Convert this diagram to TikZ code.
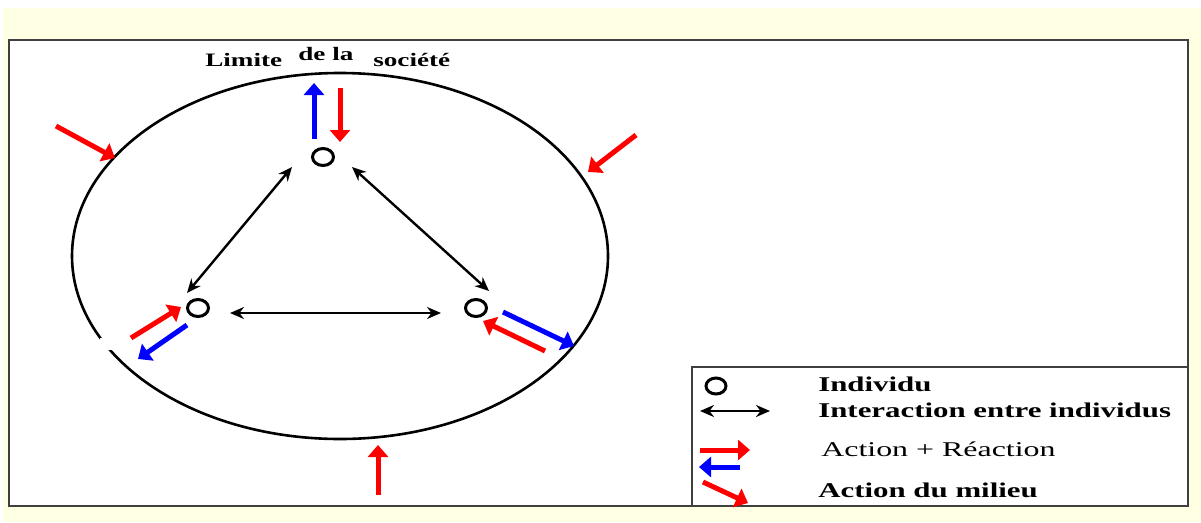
\documentclass[tikz,border=0pt]{standalone}
\usepackage{fontspec}
\setmainfont{Liberation Serif}
\usetikzlibrary{arrows.meta,shapes.geometric}
\definecolor{bgyel}{RGB}{255,255,228}
\definecolor{pred}{RGB}{255,0,0}
\definecolor{pblue}{RGB}{0,0,255}
\tikzset{
  indiv/.style={ellipse,draw=black,line width=3pt,minimum width=21pt,minimum height=17pt,inner sep=0pt},
  inter/.style={line width=2.4pt,{Stealth[length=14pt,width=12pt]}-{Stealth[length=14pt,width=12pt]}},
  redar/.style={draw=pred,line width=5pt,-{Triangle[length=12pt,width=20pt]}},
  bluear/.style={draw=pblue,line width=5pt,-{Triangle[length=12pt,width=20pt]}},
  ttl/.style={font=\bfseries\fontsize{19}{21}\selectfont,anchor=west,inner sep=0pt,xscale=1.43},
  lbl/.style={font=\bfseries\fontsize{21}{23}\selectfont,anchor=west,inner sep=0pt,xscale=1.47},
  lblr/.style={font=\fontsize{21}{23}\selectfont,anchor=west,inner sep=0pt,xscale=1.52},
}
\begin{document}
\begin{tikzpicture}[x=1pt,y=-1pt]
\useasboundingbox (0,0) rectangle (1201,522);
\fill[white] (0,0) rectangle (1201,522);
\fill[bgyel] (3,8) rectangle (1201,522);
\draw[line width=1.5pt,draw=black!75,fill=white] (9,40) rectangle (1188,506);
% society boundary
\draw[line width=2.6pt] (340,256) ellipse [x radius=268, y radius=183];
\fill[white] (100,338) rectangle (112,350);
% title
\node[ttl] (t1) at (205,60) {Limite};
\node[ttl] (t2) at (298,54) {de la};
\node[ttl] (t3) at (373,60) {société};
% individuals
\node[indiv] (top) at (323,157) {};
\node[indiv] (left) at (198,308) {};
\node[indiv] (right) at (476,308) {};
% interactions
\draw[inter] (187,293) -- (292,167);
\draw[inter] (489,291) -- (352,167);
\draw[inter] (230,313) -- (441,313);
% action + reaction arrows
\draw[bluear] (314,139) -- (314,83);
\draw[redar] (340,88) -- (340,142);
\draw[redar] (131,338) -- (181,307);
\draw[bluear] (187,325) -- (138,359);
\draw[bluear] (503,312) -- (574,346);
\draw[redar] (545,351) -- (483,321);
% action du milieu
\coordinate (m1s) at (56,126);
\coordinate (m1e) at (115,158);
\coordinate (m2s) at (636,135);
\coordinate (m2e) at (588,172);
\coordinate (m3s) at (378,495);
\coordinate (m3e) at (378,445);
\draw[redar] (m1s) -- (m1e);
\draw[redar] (m2s) -- (m2e);
\draw[redar] (m3s) -- (m3e);
% legend
\draw[line width=1.5pt,draw=black!75] (692,506) -- (692,367) -- (1188,367);
\node[indiv,minimum width=20pt,minimum height=16pt] (lg1) at (716,386) {};
\coordinate (lg2a) at (700,411);
\coordinate (lg2b) at (770,411);
\draw[inter] (lg2a) -- (lg2b);
\draw[redar] (700,450) -- (750,450);
\draw[bluear] (740,467) -- (699,467);
\draw[redar] (703,482) -- (748,503);
\node[lbl] (li1) at (818,384) {Individu};
\node[lbl] (li2) at (818,410) {Interaction entre individus};
\node[lblr] (li3) at (821,449) {Action + Réaction};
\node[lbl] (li4) at (818,490) {Action du milieu};
\end{tikzpicture}
\end{document}
